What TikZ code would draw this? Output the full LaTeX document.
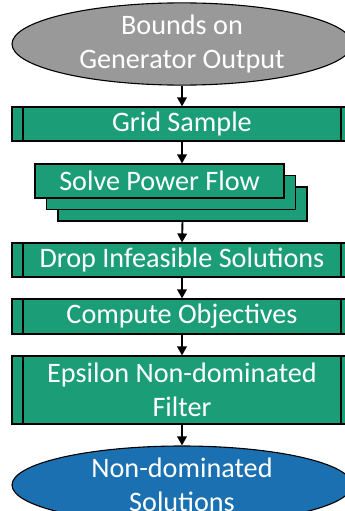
\documentclass[tikz,border=0pt]{standalone}
\usepackage{fontspec}
\setmainfont{Carlito}
\usetikzlibrary{shapes.geometric,arrows.meta}

\definecolor{procgreen}{HTML}{1B9E77}
\definecolor{termgray}{HTML}{999999}
\definecolor{termblue}{HTML}{1A70B0}

\tikzset{
  label font/.style={font=\fontsize{28.2}{34}\selectfont, text=white, align=center},
  terminal/.style={ellipse, draw=black, line width=1.1pt, minimum width=340pt,
    minimum height=78pt, inner sep=0pt, label font},
  plainbox/.style={rectangle, draw=black, line width=1.1pt, fill=procgreen,
    minimum width=249pt, minimum height=34pt, inner sep=0pt, label font},
  procbox/.style={rectangle, draw=black, line width=1.1pt, fill=procgreen,
    minimum width=340pt, inner sep=0pt, label font,
    path picture={
      \draw[line width=1.1pt] ([xshift=11pt]path picture bounding box.north west)
        -- ([xshift=11pt]path picture bounding box.south west);
      \draw[line width=1.1pt] ([xshift=-11pt]path picture bounding box.north east)
        -- ([xshift=-11pt]path picture bounding box.south east);
    }},
  flow/.style={-{Triangle[width=9.5pt,length=9pt]}, line width=1.9pt, black}
}

\begin{document}
\begin{tikzpicture}[x=1pt,y=-1pt]
  \useasboundingbox (0,0) rectangle (345,511);
  \clip (0,0) rectangle (345,511);

  \node[terminal, fill=termgray] (bounds) at (182,44) {Bounds on\\Generator Output};

  \node[procbox, minimum height=34pt] (grid) at (182,124) {Grid Sample};

  % stacked copies of the power flow step, back to front
  \node[plainbox] (pfback) at (182.5,204) {};
  \node[plainbox] (pfmid) at (171,192.5) {};
  \node[plainbox] (pf) at (159.5,181) {Solve Power Flow};

  \node[procbox, minimum height=34pt] (drop) at (182,260) {Drop Infeasible Solutions};
  \node[procbox, minimum height=35pt] (obj) at (182,316.5) {Compute Objectives};
  \node[procbox, minimum height=68pt] (eps) at (182,390) {Epsilon Non-dominated\\Filter};

  \node[terminal, fill=termblue] (front) at (182,485) {Non-dominated\\Solutions};

  \draw[flow] (bounds.south) -- (grid.north);
  \draw[flow] (grid.south) -- (grid.south |- pf.north);
  \draw[flow] (pfback.south) -- (drop.north);
  \draw[flow] (drop.south) -- (obj.north);
  \draw[flow] (obj.south) -- (eps.north);
  \draw[flow] (eps.south) -- (front.north);
\end{tikzpicture}
\end{document}
